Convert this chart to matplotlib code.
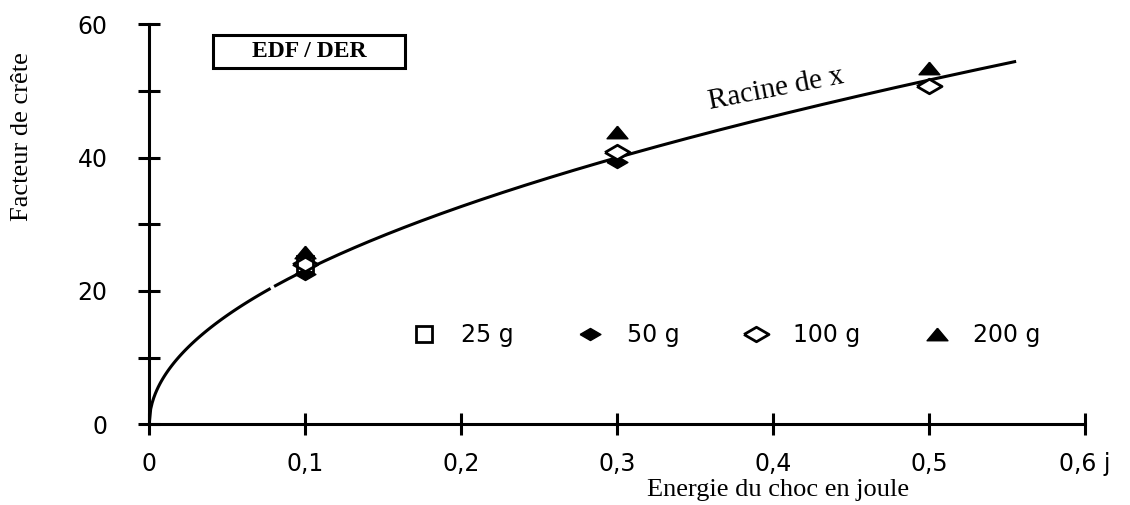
import numpy as np
import matplotlib.pyplot as plt
from matplotlib.patches import Rectangle

# =========================================
# Data
# =========================================

energy = [0.1, 0.3, 0.5]

crest_25g = [24.0]            # only at 0,1 J
crest_50g = [22.6, 39.4, 50.6]
crest_100g = [24.0, 40.8, 50.8]
crest_200g = [25.8, 43.8, 53.5]

sqrt_coef = 73.0              # Racine de x fit
curve_end = 0.555
curve_gap = (0.077, 0.081)

x_ticks = [0, 0.1, 0.2, 0.3, 0.4, 0.5, 0.6]
x_labels = ["0", "0,1", "0,2", "0,3", "0,4", "0,5", "0,6 j"]
y_ticks = [0, 10, 20, 30, 40, 50, 60]
y_labels = ["0", "", "20", "", "40", "", "60"]

sans = "DejaVu Sans"
serif = "Liberation Serif"

# flat markers like the scanned original
tri = [(0, 0.6), (-1, -0.6), (1, -0.6), (0, 0.6)]
dia = [(-1, 0), (0, 0.58), (1, 0), (0, -0.58), (-1, 0)]

# =========================================
# Figure
# =========================================

fig = plt.figure(figsize=(11.3, 5.05), dpi=100)
ax = fig.add_axes([0.132, 0.160, 0.828, 0.792])

# sqrt curve, in two pieces (small break near 0,08)
xa = np.linspace(0, curve_gap[0], 80)
xb = np.linspace(curve_gap[1], curve_end, 300)
ax.plot(xa, sqrt_coef * np.sqrt(xa), color="black", lw=2.2)
ax.plot(xb, sqrt_coef * np.sqrt(xb), color="black", lw=2.2)

ax.plot(energy, crest_50g, linestyle="none", marker=dia, ms=15,
        color="black", label="50 g", zorder=3)
ax.plot(energy, crest_100g, linestyle="none", marker=dia, ms=18,
        mfc="white", mec="black", mew=2, label="100 g", zorder=4)
ax.plot(energy[:1], crest_25g, linestyle="none", marker="s", ms=12,
        mfc="none", mec="black", mew=2, label="25 g", zorder=5)
ax.plot(energy, crest_200g, linestyle="none", marker=tri, ms=15,
        color="black", label="200 g", zorder=3)

ax.set_xlim(0, 0.6)
ax.set_ylim(0, 60)

for s in ["top", "right"]:
    ax.spines[s].set_visible(False)
for s in ["left", "bottom"]:
    ax.spines[s].set_linewidth(2.2)

ax.set_xticks(x_ticks)
ax.set_xticklabels(x_labels, fontsize=17, family=sans)
ax.set_yticks(y_ticks)
ax.set_yticklabels(y_labels, fontsize=17, family=sans)
ax.tick_params(direction="inout", length=16, width=2.2)
ax.tick_params(axis="x", pad=12)
ax.tick_params(axis="y", pad=22)

# axis titles
ax.text(-0.136, 0.72, "Facteur de crête", transform=ax.transAxes,
        fontsize=19, family=serif, rotation=90, ha="center", va="center")
ax.text(0.672, -0.165, "Energie du choc en joule", transform=ax.transAxes,
        fontsize=19, family=serif, ha="center", va="center")

ax.text(0.402, 50.3, "Racine de x", fontsize=21, family=serif,
        rotation=11, ha="center", va="center")

# EDF / DER box
ax.add_patch(Rectangle((0.041, 53.4), 0.123, 4.95, fill=False,
                       ec="black", lw=2.2, clip_on=False))
ax.text(0.1025, 55.9, "EDF / DER", fontsize=17, family=serif,
        weight="bold", ha="center", va="center")

# legend in the order of the original
h, l = ax.get_legend_handles_labels()
order = [l.index(k) for k in ["25 g", "50 g", "100 g", "200 g"]]
ax.legend([h[i] for i in order], [l[i] for i in order], ncol=4,
          frameon=False, loc="center", bbox_to_anchor=(0.614, 0.222),
          prop={"family": sans, "size": 17}, handlelength=1.5,
          handletextpad=0.8, columnspacing=2.5, numpoints=1)

fig.savefig("out.png", dpi=100)
